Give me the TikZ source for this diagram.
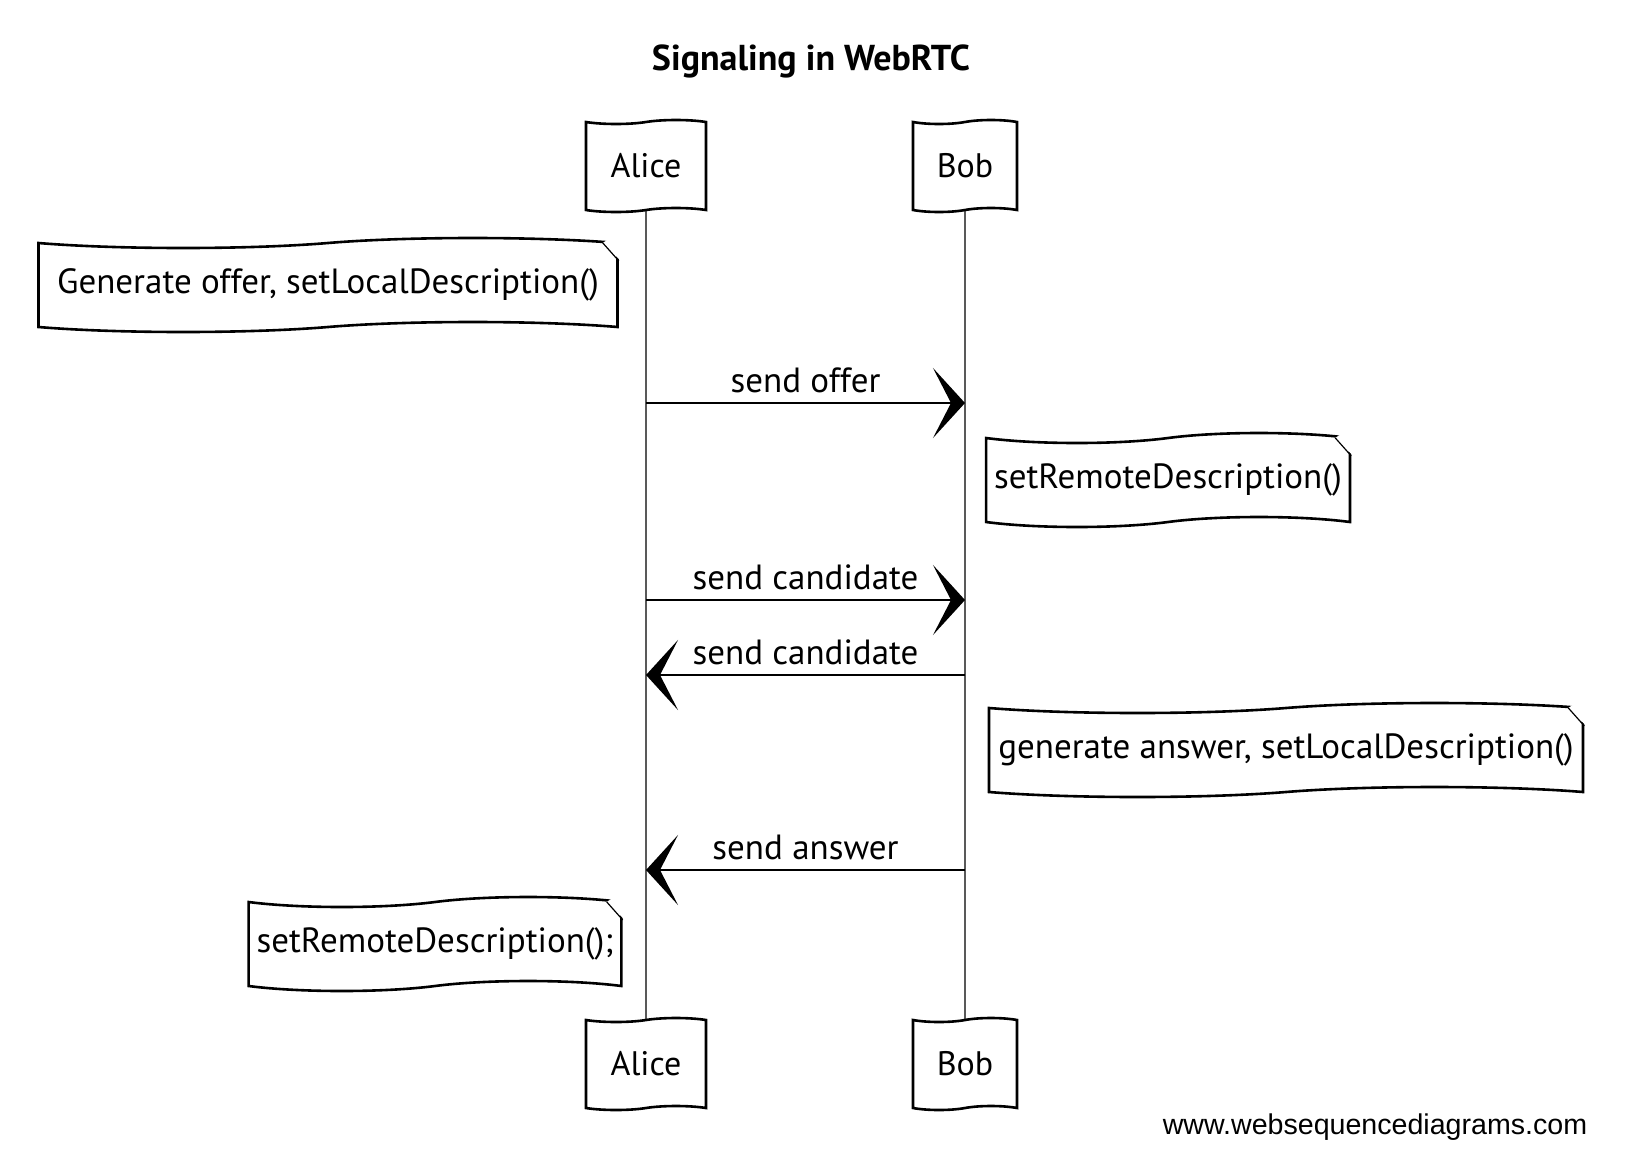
\documentclass[tikz,border=0pt]{standalone}
\usepackage{fontspec}
\setmainfont{PT Sans}
\setsansfont{Liberation Sans}
\usetikzlibrary{positioning}
\usetikzlibrary{arrows.meta}
\usetikzlibrary{shapes.symbols}

\tikzset{
  actor/.style = {tape, draw, line width=1.3pt, tape bend height=2pt,
                  minimum height=46pt, font=\fontsize{17}{20}\selectfont},
  note/.style  = {tape, draw, line width=1.3pt, tape bend height=5pt,
                  minimum height=47pt, inner xsep=4pt, font=\fontsize{17.5}{20}\selectfont},
  fold/.style  = {line width=0.6pt},
  life/.style  = {line width=0.6pt},
  msg/.style   = {line width=1.3pt, -{Stealth[length=16pt, width=35pt, inset=9pt]}},
  lbl/.style   = {font=\fontsize{17.5}{20}\selectfont, above=1pt}
}

\begin{document}
\begin{tikzpicture}[x=0.5pt, y=-0.5pt]
  \useasboundingbox (0,0) rectangle (1634,1168);

  \node (title) [font=\bfseries\fontsize{18}{21}\selectfont] at (811,61) {Signaling in WebRTC};

  % participants
  \node (aliceTop) [actor, minimum width=60pt] at (646,166) {Alice};
  \node (bobTop) [actor, minimum width=52pt] at (965,166) {Bob};
  \node (aliceBot) [actor, minimum width=60pt] at (646,1064) {Alice};
  \node (bobBot) [actor, minimum width=52pt] at (965,1064) {Bob};

  \draw[life] (aliceTop) -- (aliceBot);
  \draw[life] (bobTop) -- (bobBot);

  % notes
  \node (genOffer) [note, minimum width=289.5pt] at (328,285) {Generate offer, setLocalDescription()};
  \node (setRemoteB) [note, minimum width=180pt] at (1168,480) {setRemoteDescription()};
  \node (genAnswer) [note, minimum width=297pt] at (1286,750) {generate answer, setLocalDescription()};
  \node (setRemoteA) [note, minimum width=183pt] at (435,944) {setRemoteDescription();};

  % dog ears
  \foreach \n in {genOffer, setRemoteB, genAnswer, setRemoteA} {
    \fill[white] ([xshift=-8pt]\n.north east) -- ([xshift=1pt, yshift=6pt]\n.north east)
      -- ([xshift=1pt, yshift=-9pt]\n.north east) -- cycle;
    \draw[fold] ([xshift=-8pt]\n.north east) -- ([yshift=-9pt]\n.north east);
  }

  % messages
  \coordinate (offer) at (0,403);
  \coordinate (candAB) at (0,600);
  \coordinate (candBA) at (0,675);
  \coordinate (answer) at (0,870);

  \draw[msg] (aliceTop |- offer) -- node[lbl] {send offer} (bobTop |- offer);
  \draw[msg] (aliceTop |- candAB) -- node[lbl] {send candidate} (bobTop |- candAB);
  \draw[msg] (bobTop |- candBA) -- node[lbl] {send candidate} (aliceTop |- candBA);
  \draw[msg] (bobTop |- answer) -- node[lbl] {send answer} (aliceTop |- answer);

  \node (wsd) [font=\sffamily\fontsize{14.3}{16}\selectfont] at (1375,1127) {www.websequencediagrams.com};
\end{tikzpicture}
\end{document}
